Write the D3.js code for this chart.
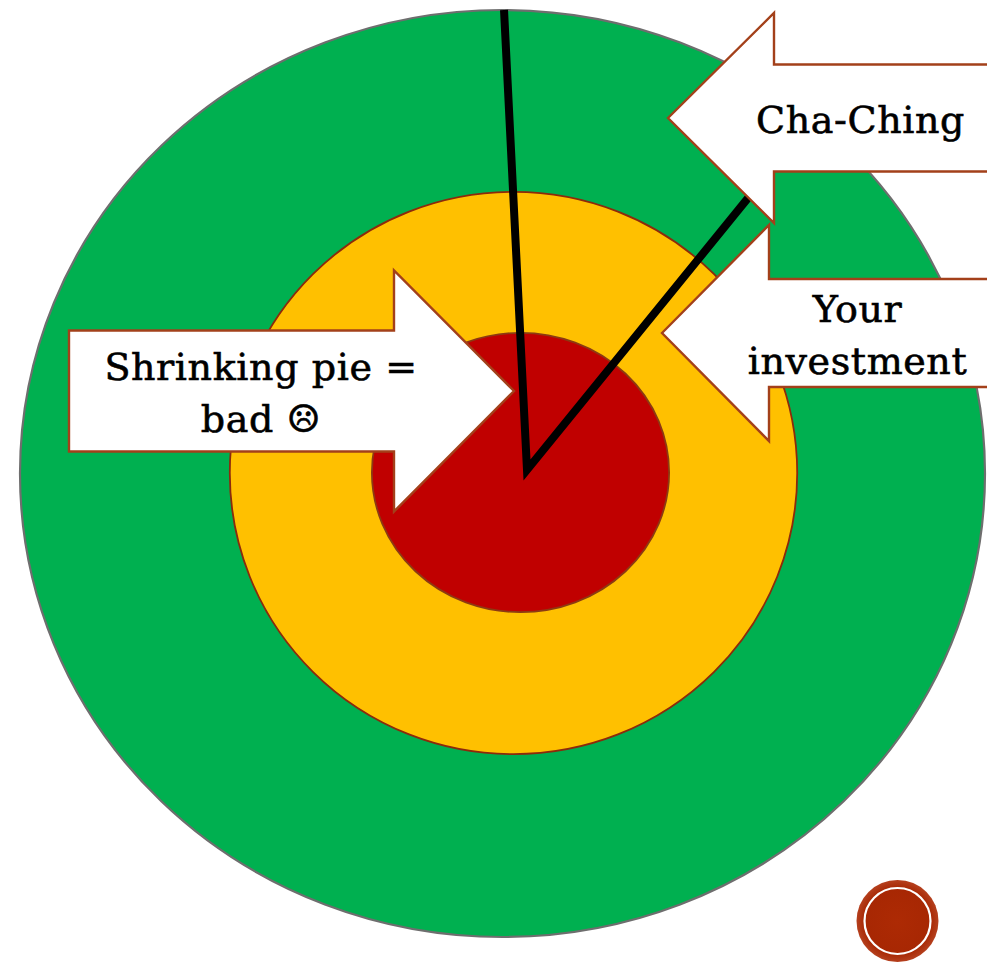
<!DOCTYPE html>
<html>
<head>
<meta charset="utf-8">
<script src="https://cdn.jsdelivr.net/npm/d3@7"></script>
<style>
  html, body { margin: 0; padding: 0; background: #ffffff; }
  svg { display: block; }
</style>
</head>
<body>
<svg id="chart" width="996" height="964"></svg>
<script>
// ---- data ----
// Three "pies": the whole, the shrunk pie, and what is left of it (relative size, % of the whole)
const rings = ["Whole pie", "Shrinking pie", "Remaining pie"];
const ringValues = [100, 58.8, 30.8];
const ringColors = ["#00b050", "#ffc000", "#c00000"];
// The slice cut out for the investor, edges as angles in degrees (0 = straight up, clockwise)
const sliceEdges = [-2.86, 39.1];
// Callout labels
const calloutLabels = [["Cha-Ching"], ["Your", "investment"], ["Shrinking pie =", "bad \u2639"]];

// ---- layout ----
const W = 996, H = 964;
const ringCenters = [[502.5, 473.5], [513.5, 473], [520.5, 472.5]];
const ringAspect = [0.9606, 0.991, 0.94];      // vertical / horizontal radius
const ringStroke = ["#6e6e6e", "#8c2a0c", "#8c3a12"];
const pieCenter = [527, 470];

const svg = d3.select("#chart");

const rScale = d3.scaleLinear().domain([0, 100]).range([0, 482.5]);

// rings
svg.append("g").attr("class", "rings")
  .selectAll("ellipse")
  .data(rings)
  .join("ellipse")
  .attr("cx", (d, i) => ringCenters[i][0])
  .attr("cy", (d, i) => ringCenters[i][1])
  .attr("rx", (d, i) => rScale(ringValues[i]))
  .attr("ry", (d, i) => rScale(ringValues[i]) * ringAspect[i])
  .attr("fill", (d, i) => ringColors[i])
  .attr("stroke", (d, i) => ringStroke[i])
  .attr("stroke-width", (d, i) => i === 0 ? 2.2 : 1.8);

// slice edges run from the pie center out to the rim of the whole pie
const outer = { cx: ringCenters[0][0], cy: ringCenters[0][1],
  rx: rScale(ringValues[0]), ry: rScale(ringValues[0]) * ringAspect[0] };
function rimDistance(deg) {
  const a = deg * Math.PI / 180;
  const dx = Math.sin(a), dy = -Math.cos(a);
  const px = (pieCenter[0] - outer.cx) / outer.rx, py = (pieCenter[1] - outer.cy) / outer.ry;
  const vx = dx / outer.rx, vy = dy / outer.ry;
  const A = vx * vx + vy * vy, B = 2 * (px * vx + py * vy), C = px * px + py * py - 1;
  return (-B + Math.sqrt(B * B - 4 * A * C)) / (2 * A);
}
const edgePts = sliceEdges.map(deg => {
  const p = d3.pointRadial(deg * Math.PI / 180, rimDistance(deg));
  return [pieCenter[0] + p[0], pieCenter[1] + p[1]];
});
svg.append("path")
  .attr("d", d3.line()([edgePts[0], pieCenter, edgePts[1]]))
  .attr("fill", "none")
  .attr("stroke", "#000")
  .attr("stroke-width", 8)
  .attr("stroke-linejoin", "miter");

// block arrows (tip, head base x, head half-height, body half-height, tail x)
const arrowSpecs = [
  { tip: [668, 118], headX: 774, headHalf: 105, bodyHalf: 53.5, tailX: 1005, text: [860.5, 133] },
  { tip: [662, 333], headX: 769, headHalf: 108, bodyHalf: 54, tailX: 1005, text: [857.5, 322] },
  { tip: [514, 391], headX: 394, headHalf: 120.5, bodyHalf: 60.5, tailX: 69, text: [261, 380] }
];
function arrowPath(s) {
  const [tx, ty] = s.tip;
  const cy = ty;
  return d3.line()([
    [tx, ty],
    [s.headX, cy - s.headHalf],
    [s.headX, cy - s.bodyHalf],
    [s.tailX, cy - s.bodyHalf],
    [s.tailX, cy + s.bodyHalf],
    [s.headX, cy + s.bodyHalf],
    [s.headX, cy + s.headHalf]
  ]) + "Z";
}

svg.append("defs").append("clipPath").attr("id", "frame")
  .append("rect").attr("x", 0).attr("y", 0).attr("width", 987).attr("height", H);

const callouts = svg.append("g").attr("clip-path", "url(#frame)")
  .selectAll("g")
  .data(arrowSpecs)
  .join("g");

callouts.append("path")
  .attr("d", arrowPath)
  .attr("fill", "#ffffff")
  .attr("stroke", "#a3401a")
  .attr("stroke-width", 2.4)
  .attr("stroke-linejoin", "miter");

callouts.append("text")
  .attr("x", d => d.text[0])
  .attr("y", d => d.text[1])
  .attr("text-anchor", "middle")
  .attr("font-family", "'DejaVu Serif', 'Liberation Serif', serif")
  .attr("font-size", 38)
  .attr("letter-spacing", 0.6)
  .attr("fill", "#000")
  .attr("stroke", "#000")
  .attr("stroke-width", 0.6)
  .selectAll("tspan")
  .data((d, i) => calloutLabels[i])
  .join("tspan")
  .attr("x", function () { return d3.select(this.parentNode).datum().text[0]; })
  .attr("dy", (d, i) => i === 0 ? 0 : 52)
  .text(d => d);

// slide badge
const badge = svg.append("g").attr("transform", "translate(897.5,921)");
const grad = svg.select("defs").append("radialGradient").attr("id", "badgeFill");
grad.append("stop").attr("offset", "0%").attr("stop-color", "#ad2a04");
grad.append("stop").attr("offset", "80%").attr("stop-color", "#a72703");
grad.append("stop").attr("offset", "100%").attr("stop-color", "#b5401e");
badge.append("circle").attr("r", 41).attr("fill", "url(#badgeFill)");
badge.append("circle").attr("r", 33).attr("fill", "none").attr("stroke", "#ffffff").attr("stroke-width", 2.2);
</script>
</body>
</html>
